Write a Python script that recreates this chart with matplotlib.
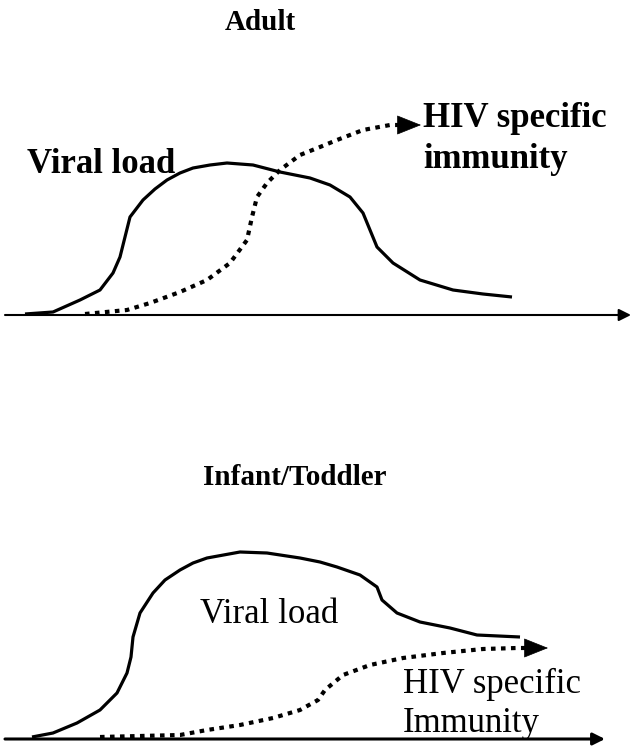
import matplotlib
matplotlib.use("Agg")
import matplotlib.pyplot as plt

# top panel (adult): x = time, level = height above the time axis
adult_vl_x = [25, 53, 80, 100, 113, 120, 125, 130, 143, 155, 167, 180, 193, 210, 227,
              253, 280, 310, 330, 350, 363, 370, 377, 393, 420, 453, 483, 512]
adult_vl = [1, 3, 15, 25, 42, 58, 78, 98, 115, 126, 135, 142, 147, 150, 152,
            150, 143, 137, 130, 118, 102, 85, 68, 52, 35, 25, 21, 18]
adult_im_x = [85, 127, 150, 180, 207, 230, 247, 252, 257, 267, 280, 300, 320,
              337, 363, 390, 398]
adult_im = [1, 5, 12, 23, 35, 52, 75, 98, 118, 132, 145, 160, 168,
            175, 185, 190, 190]

# bottom panel (infant/toddler)
infant_vl_x = [32, 53, 77, 100, 117, 127, 131, 133, 140, 153, 165, 180, 193, 207, 240,
               267, 300, 320, 337, 360, 377, 382, 397, 420, 450, 477, 520]
infant_vl = [2, 6, 16, 29, 46, 66, 82, 102, 126, 146, 159, 169, 176, 181, 187,
             186, 181, 177, 172, 164, 152, 139, 126, 117, 111, 104, 102]
infant_im_x = [100, 180, 207, 240, 273, 300, 318, 325, 343, 370, 403, 443, 483, 517, 525]
infant_im = [2, 4, 9, 14, 21, 29, 39, 49, 64, 74, 81, 86, 90, 91, 91]

W, H = 631, 749
fig = plt.figure(figsize=(W / 100, H / 100), dpi=100)
ax1 = fig.add_axes([0, (H - 330) / H, 1, 315 / H])
ax2 = fig.add_axes([0, 0, 1, 310 / H])
ax1.set_ylim(-15, 300)
ax2.set_ylim(-10, 300)
for ax in (ax1, ax2):
    ax.set_xlim(0, W)
    ax.axis("off")

serif = "Liberation Serif"
dots = (0, (1.1, 1.3))
head = "-|>,head_length=0.45,head_width=0.18"


def arrow(ax, x0, x1, y, lw, size, style="-|>"):
    ax.annotate("", xy=(x1, y), xytext=(x0, y), annotation_clip=False,
                arrowprops=dict(arrowstyle=style, color="black", lw=lw,
                                mutation_scale=size, shrinkA=0, shrinkB=0))


# adult
arrow(ax1, 5, 631, 0, 1.5, 18)
ax1.plot(adult_vl_x, adult_vl, color="black", lw=2.3, solid_capstyle="butt")
ax1.plot(adult_im_x, adult_im, color="black", lw=3.0, linestyle=dots)
arrow(ax1, adult_im_x[-1], 421, adult_im[-1], 0.5, 36, head)
ax1.text(260, 285, "Adult", family=serif, weight="bold", fontsize=21,
         ha="center", va="baseline")
ax1.text(27, 142, "Viral load", family=serif, weight="bold", fontsize=25,
         va="baseline")
ax1.text(423, 188, "HIV specific", family=serif, weight="bold", fontsize=25,
         va="baseline")
ax1.text(423, 147, "immunity", family=serif, weight="bold", fontsize=25,
         va="baseline")

# infant / toddler
arrow(ax2, 5, 605, 0, 2.2, 18)
ax2.plot(infant_vl_x, infant_vl, color="black", lw=2.3, solid_capstyle="butt")
ax2.plot(infant_im_x, infant_im, color="black", lw=3.0, linestyle=dots)
arrow(ax2, infant_im_x[-1], 548, infant_im[-1], 0.5, 36, head)
ax2.text(295, 254, "Infant/Toddler", family=serif, weight="bold", fontsize=21,
         ha="center", va="baseline")
ax2.text(200, 116, "Viral load", family=serif, fontsize=25, va="baseline")
ax2.text(403, 46, "HIV specific", family=serif, fontsize=25, va="baseline")
ax2.text(403, 7, "Immunity", family=serif, fontsize=25, va="baseline")

fig.savefig("out.png", dpi=100, facecolor="white")
